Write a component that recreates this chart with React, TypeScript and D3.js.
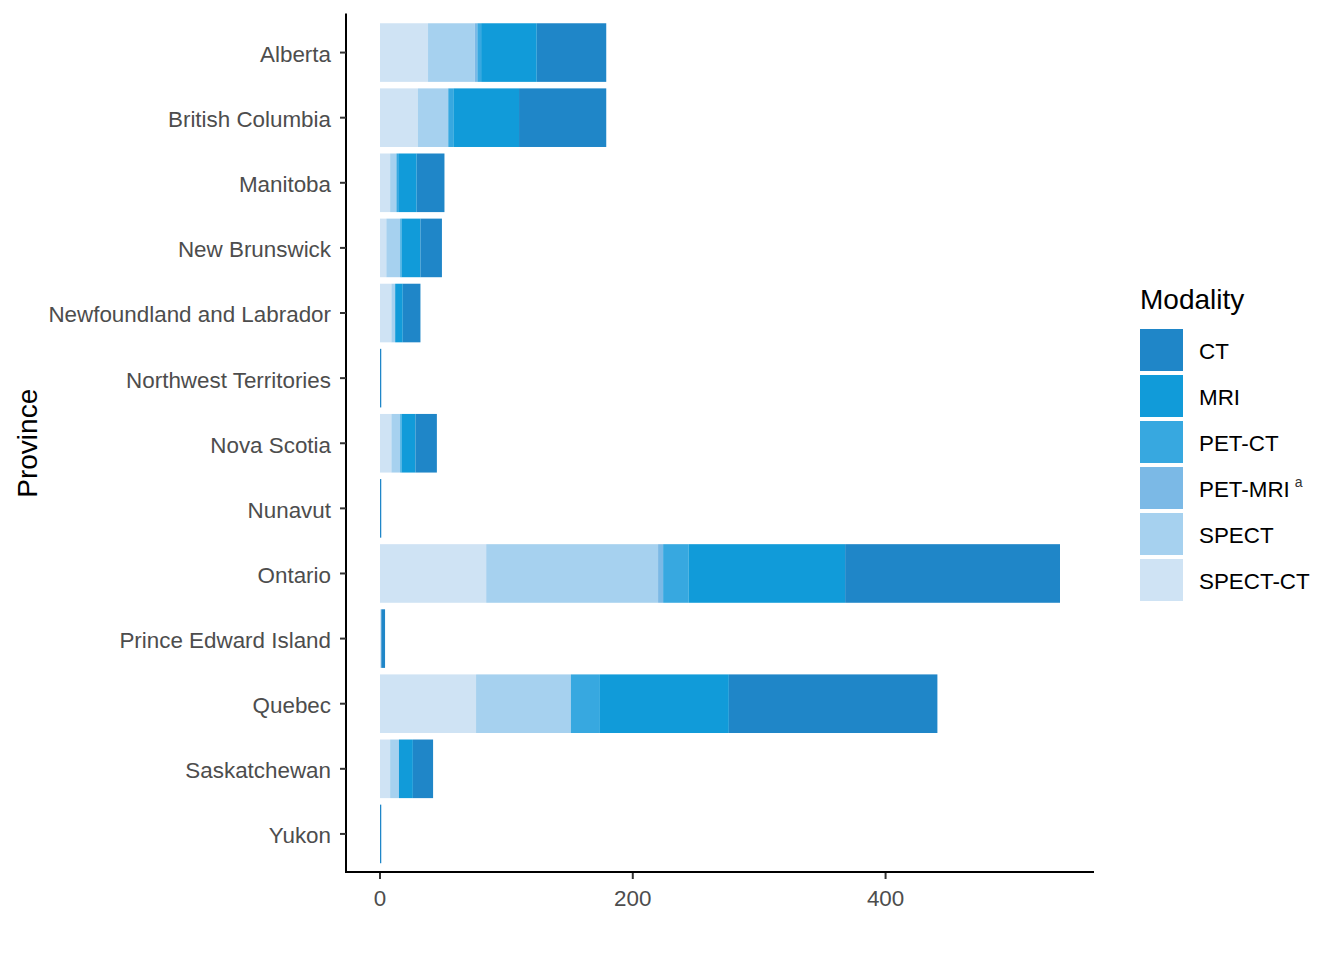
import React from "react";
import * as d3 from "d3";

const provinces = [
  "Alberta",
  "British Columbia",
  "Manitoba",
  "New Brunswick",
  "Newfoundland and Labrador",
  "Northwest Territories",
  "Nova Scotia",
  "Nunavut",
  "Ontario",
  "Prince Edward Island",
  "Quebec",
  "Saskatchewan",
  "Yukon",
];

const ctValues = [55, 69, 22, 17, 14, 1, 17, 1, 170, 3, 165, 16, 1];
const mriValues = [44, 52, 14, 15, 6, 0, 11, 0, 124, 0, 102, 11, 0];
const petCtValues = [3, 4, 2, 1, 0, 0, 1, 0, 20, 0, 23, 0, 0];
const petMriValues = [2, 0, 0, 0, 0, 0, 0, 0, 4, 0, 0, 0, 0];
const spectValues = [37, 24, 5, 11, 3, 0, 7, 0, 136, 0, 75, 7, 0];
const spectCtValues = [38, 30, 8, 5, 9, 0, 9, 0, 84, 1, 76, 8, 0];

const modalities = ["CT", "MRI", "PET-CT", "PET-MRI", "SPECT", "SPECT-CT"];
const modalityColors = ["#1f86c8", "#119bd9", "#37a8e0", "#7bb9e6", "#a6d1ef", "#cfe3f4"];
const xTicks = [0, 200, 400];

const seriesByModality: Record<string, number[]> = {
  CT: ctValues,
  MRI: mriValues,
  "PET-CT": petCtValues,
  "PET-MRI": petMriValues,
  SPECT: spectValues,
  "SPECT-CT": spectCtValues,
};

const FONT = "'Liberation Sans', Arial, sans-serif";

export default function App() {
  const W = 1344;
  const H = 960;
  const panel = { left: 346, right: 1094, top: 13.5, bottom: 873 };

  const rows = provinces.map((p, i) => {
    const r: any = { province: p };
    modalities.forEach((m) => (r[m] = seriesByModality[m][i]));
    return r;
  });

  const stackOrder = [...modalities].reverse(); // SPECT-CT leftmost, CT rightmost
  const stacked = d3.stack<any>().keys(stackOrder)(rows);
  const maxTotal = d3.max(stacked[stacked.length - 1], (d) => d[1]) as number;

  const x = d3
    .scaleLinear()
    .domain([-0.05 * maxTotal, 1.05 * maxTotal])
    .range([panel.left, panel.right]);
  const y = d3
    .scaleBand<string>()
    .domain(provinces)
    .range([panel.top, panel.bottom])
    .paddingInner(0.1)
    .paddingOuter(0.15);

  const color = d3.scaleOrdinal<string, string>().domain(modalities).range(modalityColors);

  const legendX = 1140;
  const legendTop = 329;
  const keyW = 43;
  const keyH = 42;
  const keyStep = 46;

  return (
    <svg
      width={W}
      height={H}
      style={{ position: "absolute", left: 0, top: 0, background: "#fff" }}
      fontFamily={FONT}
    >
      <rect x={0} y={0} width={W} height={H} fill="#fff" />
      {stacked.map((layer) => (
        <g key={layer.key} fill={color(layer.key)}>
          {layer.map((d, i) =>
            d[1] - d[0] > 0 ? (
              <rect
                key={i}
                x={x(d[0])}
                y={y(provinces[i])}
                width={x(d[1]) - x(d[0])}
                height={y.bandwidth()}
              />
            ) : null
          )}
        </g>
      ))}

      {/* axes */}
      <line x1={panel.left} x2={panel.left} y1={panel.top} y2={panel.bottom} stroke="#000" strokeWidth={2} />
      <line x1={panel.left - 1} x2={panel.right} y1={panel.bottom - 1} y2={panel.bottom - 1} stroke="#000" strokeWidth={2} />

      {provinces.map((p) => {
        const cy = (y(p) as number) + y.bandwidth() / 2;
        return (
          <g key={p}>
            <line x1={panel.left - 6} x2={panel.left} y1={cy} y2={cy} stroke="#333" strokeWidth={2} />
            <text x={331} y={cy} dy="0.42em" textAnchor="end" fontSize={22.4} fill="#4d4d4d">
              {p}
            </text>
          </g>
        );
      })}

      {xTicks.map((t) => (
        <g key={t}>
          <line x1={x(t)} x2={x(t)} y1={panel.bottom} y2={panel.bottom + 6} stroke="#333" strokeWidth={2} />
          <text x={x(t)} y={906} textAnchor="middle" fontSize={22.4} fill="#4d4d4d">
            {t}
          </text>
        </g>
      ))}

      <text
        transform={`translate(37, ${(panel.top + panel.bottom) / 2}) rotate(-90)`}
        textAnchor="middle"
        fontSize={28}
        fill="#000"
      >
        Province
      </text>

      {/* legend */}
      <text x={legendX} y={309} fontSize={28} fill="#000">
        Modality
      </text>
      {modalities.map((m, i) => {
        const ky = legendTop + i * keyStep;
        return (
          <g key={m}>
            <rect x={legendX} y={ky} width={keyW} height={keyH} fill={color(m)} />
            <text x={1199} y={ky + keyH / 2} dy="0.4em" fontSize={22.4} fill="#000">
              {m}
              {m === "PET-MRI" ? (
                <tspan dx={5} dy={-10} fontSize={14} fill="#333">
                  a
                </tspan>
              ) : null}
            </text>
          </g>
        );
      })}
    </svg>
  );
}
